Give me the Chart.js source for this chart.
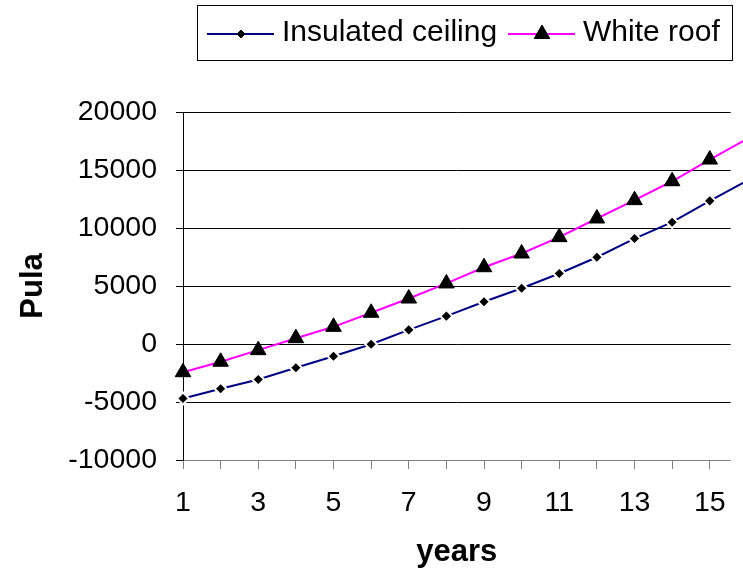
<!DOCTYPE html>
<html>
<head>
<meta charset="utf-8">
<script src="https://cdn.jsdelivr.net/npm/chart.js@4.4.1/dist/chart.umd.min.js"></script>
<style>
  html, body { margin: 0; padding: 0; background: #fff; }
  #wrap { width: 743px; height: 576px; }
</style>
</head>
<body>
<div id="wrap"><canvas id="chart"></canvas></div>
<script>
const years = [1, 2, 3, 4, 5, 6, 7, 8, 9, 10, 11, 12, 13, 14, 15, 16];
const insulatedCeiling = [-4700, -3860, -3060, -2050, -1050, -20, 1220, 2400, 3640, 4810, 6080, 7480, 9090, 10500, 12340, 14100];
const whiteRoof = [-2430, -1530, -530, 500, 1480, 2690, 3920, 5220, 6620, 7800, 9210, 10820, 12400, 14030, 15900, 17700];
const seriesNames = ["Insulated ceiling", "White roof"];
const yTicks = [-10000, -5000, 0, 5000, 10000, 15000, 20000];

const FONT = "'Liberation Sans', Arial, sans-serif";
const tickSize = 28.5;
const legendSize = 30;
const titleSize = 31;
const xMax = 15.83; // the picture is cut just before year 16
const pxPerYear = (712 - 183) / 14; // spacing of the year ticks in the original

function toPoints(values) {
  return years.map((yr, i) => ({ x: yr, y: values[i] }));
}

// legend box with line + marker samples, like the excel one
const boxLegend = {
  id: "boxLegend",
  afterDraw(chart) {
    const ctx = chart.ctx;
    ctx.save();
    ctx.strokeStyle = "#000";
    ctx.lineWidth = 1;
    ctx.strokeRect(197.5, 5.5, 535, 55);

    const items = [
      { x: 207, ds: chart.data.datasets[0] },
      { x: 508, ds: chart.data.datasets[1] },
    ];
    const y = 34;
    items.forEach((it) => {
      ctx.strokeStyle = it.ds.borderColor;
      ctx.lineWidth = 2;
      ctx.beginPath();
      ctx.moveTo(it.x, y);
      ctx.lineTo(it.x + 67, y);
      ctx.stroke();
      ctx.fillStyle = "#000";
      ctx.strokeStyle = "#000";
      ctx.lineWidth = 1;
      Chart.helpers.drawPoint(ctx, {
        pointStyle: it.ds.pointStyle,
        radius: it.ds.pointStyle === "triangle" ? it.ds.pointRadius : 4,
        borderWidth: 1,
      }, it.x + 34, y);
      ctx.font = legendSize + "px " + FONT;
      ctx.textBaseline = "middle";
      ctx.fillText(it.ds.label, it.x + 75, 33);
    });
    ctx.restore();
  },
};

const config = {
  type: "line",
  data: {
    datasets: [
      {
        label: seriesNames[0],
        data: toPoints(insulatedCeiling),
        borderColor: "#000080",
        borderWidth: 2,
        pointStyle: "rectRot",
        pointRadius: 6,
        pointBackgroundColor: "#000",
        pointBorderColor: "#fff",
        pointBorderWidth: 2,
        clip: false,
      },
      {
        label: seriesNames[1],
        data: toPoints(whiteRoof),
        borderColor: "#ff00ff",
        borderWidth: 2,
        pointStyle: "triangle",
        pointRadius: 9,
        pointBackgroundColor: "#000",
        pointBorderColor: "#000",
        pointBorderWidth: 1,
        clip: false,
      },
    ],
  },
  options: {
    responsive: true,
    maintainAspectRatio: false,
    animation: false,
    layout: { padding: { top: 112, right: 0, bottom: 0, left: 0 } },
    plugins: { legend: { display: false }, tooltip: { enabled: false } },
    scales: {
      x: {
        type: "linear",
        bounds: "data",
        min: 1,
        max: xMax,
        afterBuildTicks: (scale) => {
          scale.ticks = years.filter((v) => v < 16).map((v) => ({ value: v }));
        },
        afterFit: (scale) => {
          scale.height = 116;
        },
        ticks: {
          autoSkip: false,
          maxRotation: 0,
          padding: 17,
          color: "#000",
          font: { family: FONT, size: tickSize },
          callback: (v) => (v % 2 === 1 ? String(v) : ""),
        },
        grid: { drawOnChartArea: false, tickLength: 9, color: "#808080" },
        border: { color: "#808080" },
        title: {
          display: true,
          text: "years",
          color: "#000",
          font: { family: FONT, size: titleSize, weight: "bold" },
          padding: { top: 0, bottom: 5 },
        },
      },
      y: {
        min: -10000,
        max: 20000,
        afterBuildTicks: (scale) => {
          scale.ticks = yTicks.map((v) => ({ value: v }));
        },
        afterFit: (scale) => {
          scale.width = 183;
        },
        ticks: {
          padding: 19,
          color: "#000",
          font: { family: FONT, size: tickSize },
          callback: (v) => String(v),
        },
        grid: { color: "#000", tickLength: 7 },
        border: { color: "#000" },
        title: {
          display: true,
          text: "Pula",
          color: "#000",
          font: { family: FONT, size: titleSize, weight: "bold" },
          padding: { top: 15, bottom: 0 },
        },
      },
    },
  },
  plugins: [boxLegend],
};

const chart = new Chart(document.getElementById("chart"), config);

// keep the year spacing of the original whatever width the plot area ended up with
const area = chart.chartArea;
chart.config.options.scales.x.max = 1 + (area.right - area.left) / pxPerYear;
chart.update();
</script>
</body>
</html>
